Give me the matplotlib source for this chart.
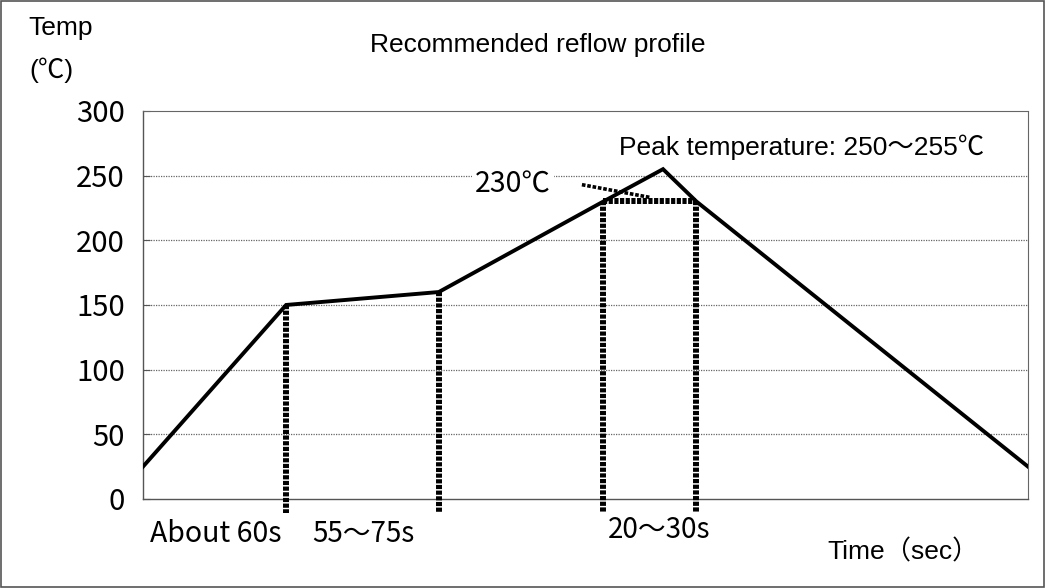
import matplotlib.pyplot as plt
from matplotlib.patches import Rectangle

# reflow profile (time in s, temperature in degC)
profile_time = [0, 60, 124, 193, 218, 232, 371]
profile_temp = [25, 150, 160, 230, 255, 230, 25]

# dotted markers for the zones
zone_times = [60, 124, 193, 232]
zone_temps = [150, 160, 230, 230]
zone_bottom = -11

yticks = [0, 50, 100, 150, 200, 250, 300]

narrow = ['Liberation Sans Narrow', 'Noto Sans CJK JP', 'DejaVu Sans']
sans = ['Liberation Sans', 'Noto Sans CJK JP', 'DejaVu Sans']

fig = plt.figure(figsize=(10.46, 5.88), dpi=100)
ax = fig.add_axes([0.1367, 0.1514, 0.8461, 0.6599])
ax.set_xlim(0, 371)
ax.set_ylim(0, 300)

# grid
for y in yticks[1:-1]:
    ax.axhline(y, color='#666666', lw=0.9, ls=(0, (1, 1)), zorder=1)
for side in ['top', 'right']:
    ax.spines[side].set_linestyle((0, (1, 1)))
    ax.spines[side].set_color('#666666')
for side in ['left', 'bottom']:
    ax.spines[side].set_color('#555555')
    ax.spines[side].set_linewidth(1.0)

ax.set_xticks([])
ax.set_yticks(yticks)
ax.set_yticklabels([str(v) for v in yticks], family=narrow, fontsize=21)
ax.tick_params(axis='y', direction='in', length=5, pad=13, color='#555555')

# profile line
ax.plot(profile_time, profile_temp, color='black', lw=2.8, zorder=4,
        solid_joinstyle='miter')

# zone markers
for t, v in zip(zone_times, zone_temps):
    ax.plot([t, t], [v, zone_bottom], color='black', lw=4.3, ls=(0, (0.7, 0.25)),
            clip_on=False, zorder=3)
ax.plot([zone_times[2], zone_times[3]], [230, 230], color='black', lw=4.3,
        ls=(0, (0.7, 0.25)), zorder=3)

# 230C label with leader
ax.text(155, 243, '230℃', family=narrow, fontsize=20.5, ha='center', va='center',
        bbox=dict(facecolor='white', edgecolor='none', pad=2), zorder=5)
ax.plot([184, 213], [243, 233], color='black', lw=2.6, ls=(0, (1, 0.5)), zorder=5)

ax.text(199.5, 272, 'Peak temperature: 250～255℃', family=sans, fontsize=19,
        ha='left', va='center')

# bottom labels
ax.text(3, -27, 'About 60s', family=narrow, fontsize=20.5, ha='left', va='center')
ax.text(71, -27, '55～75s', family=narrow, fontsize=20, ha='left', va='center')
ax.text(195, -24, '20～30s', family=narrow, fontsize=20, ha='left', va='center')
ax.text(287, -41, 'Time（sec）', family=sans, fontsize=19, ha='left', va='center')

# figure texts
fig.text(0.0268, 0.953, 'Temp', family=sans, fontsize=19, ha='left', va='center')
fig.text(0.028, 0.88, '(℃)', family=sans, fontsize=19, ha='left', va='center')
fig.text(0.514, 0.923, 'Recommended reflow profile', family=sans, fontsize=19,
         ha='center', va='center')

fig.patches.append(Rectangle((0.001, 0.002), 0.997, 0.996, transform=fig.transFigure,
                             fill=False, edgecolor='#555555', lw=1.2))

fig.savefig('out.png', dpi=100)
